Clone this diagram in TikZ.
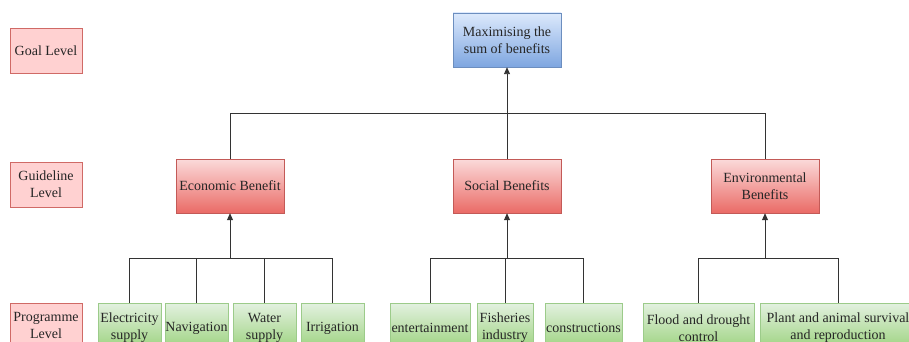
\documentclass[tikz,border=0pt]{standalone}
\usepackage{fontspec}
\setmainfont{Liberation Serif}
\usetikzlibrary{arrows.meta}
\definecolor{levelfill}{HTML}{FFD1D1}
\definecolor{levelline}{HTML}{D06A66}
\definecolor{redtop}{HTML}{FBDADA}
\definecolor{redbot}{HTML}{EA6B66}
\definecolor{redline}{HTML}{C35A57}
\definecolor{bluetop}{HTML}{DCE9FC}
\definecolor{bluebot}{HTML}{7EA6E0}
\definecolor{blueline}{HTML}{6C8EBF}
\definecolor{greentop}{HTML}{E3F1E0}
\definecolor{greenbot}{HTML}{97D077}
\definecolor{greenline}{HTML}{9CCB8A}

\begin{document}
\begin{tikzpicture}[x=1pt,y=-1pt,
  every node/.style={font=\fontsize{14}{17}\selectfont,align=center,inner sep=0pt,text=black!85},
  level box/.style={draw=levelline,fill=levelfill,minimum width=72pt,minimum height=45pt},
  goal box/.style={draw=blueline,top color=bluetop,bottom color=bluebot,minimum width=108pt,minimum height=54pt},
  guide box/.style={draw=redline,top color=redtop,bottom color=redbot,minimum width=108pt,minimum height=54pt},
  prog box/.style={draw=greenline,top color=greentop,bottom color=greenbot,minimum height=50pt},
  link/.style={draw=black!80,line width=0.9pt},
  arrow link/.style={link,-{Triangle[length=7pt,width=6pt]}}
]
\useasboundingbox (0,0) rectangle (909,342);

% levels
\node[level box] (goallevel) at (46,50.5) {Goal Level};
\node[level box] (guidelevel) at (46,184.5) {Guideline\\Level};
\node[level box] (proglevel) at (46,325.5) {Programme\\Level};

% goal and guidelines
\node[goal box] (goal) at (507,40) {Maximising the\\sum of benefits};
\node[guide box] (econ) at (230,186) {Economic Benefit};
\node[guide box] (social) at (507,186) {Social Benefits};
\node[guide box] (env) at (765,186) {Environmental\\Benefits};

% programmes
\node[prog box,minimum width=63pt] (elec) at (129.5,328) {Electricity\\supply};
\node[prog box,minimum width=63pt] (navi) at (196.5,328) {Navigation};
\node[prog box,minimum width=63pt] (water) at (264.5,328) {Water\\supply};
\node[prog box,minimum width=63pt] (irri) at (332.5,328) {Irrigation};
\node[prog box,minimum width=80pt] (enter) at (430,328) {entertainment};
\node[prog box,minimum width=56pt] (fish) at (505,328) {Fisheries\\industry};
\node[prog box,minimum width=77pt] (constr) at (583.5,328) {constructions};
\node[prog box,minimum width=111pt] (flood) at (698.5,328) {Flood and drought\\control};
\node[prog box,minimum width=156pt] (plant) at (838,328) {Plant and animal survival\\and reproduction};

% connectors
\coordinate (goalhub) at (507,113);
\coordinate (econhub) at (230,258);
\coordinate (socialhub) at (507,258);
\coordinate (envhub) at (765,258);

\draw[link] (econ.north) |- (goalhub);
\draw[link] (env.north) |- (goalhub);
\draw[arrow link] (social.north) -- (goal.south);

\foreach \p in {elec,navi,water,irri}
  \draw[link] (\p.north) |- (econhub);
\draw[arrow link] (econhub) -- (econ.south);

\foreach \p in {enter,fish,constr}
  \draw[link] (\p.north) |- (socialhub);
\draw[arrow link] (socialhub) -- (social.south);

\foreach \p in {flood,plant}
  \draw[link] (\p.north) |- (envhub);
\draw[arrow link] (envhub) -- (env.south);
\end{tikzpicture}
\end{document}
